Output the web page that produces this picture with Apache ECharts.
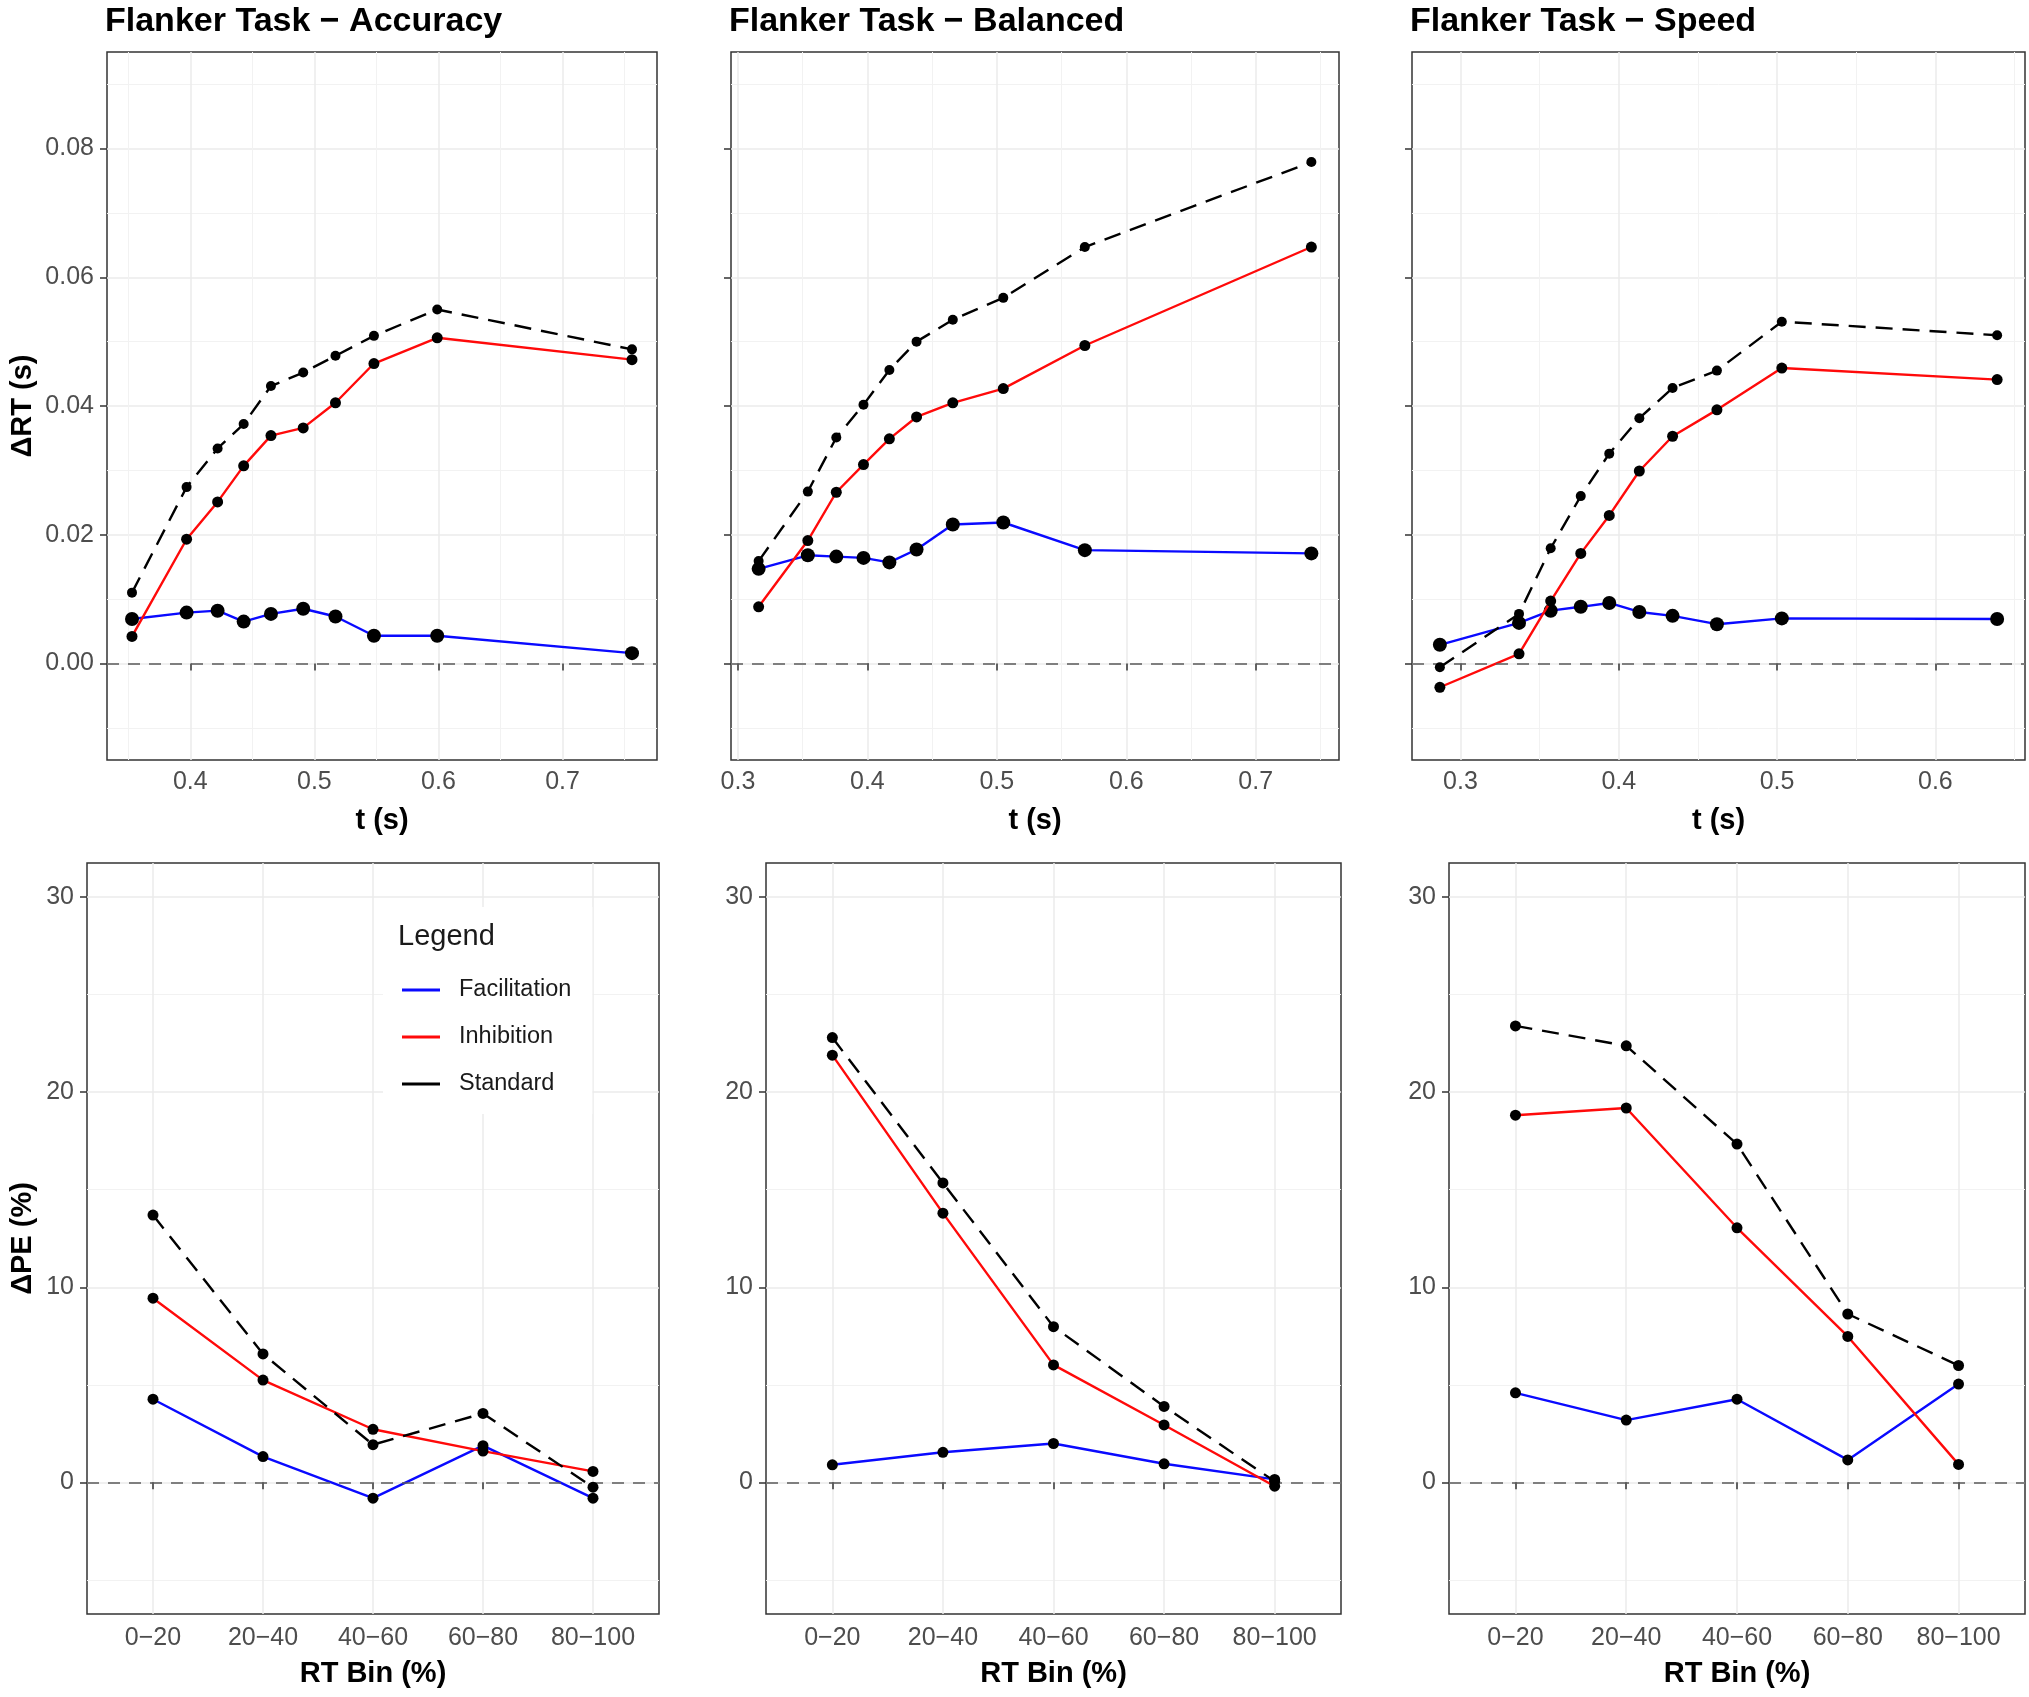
<!DOCTYPE html>
<html><head><meta charset="utf-8">
<script src="https://cdn.jsdelivr.net/npm/echarts@6/dist/echarts.min.js"></script>
<style>html,body{margin:0;padding:0;background:#fff}#c{width:2029px;height:1697px}</style>
</head><body><div id="c"></div>
<script>
// ---------- DATA ----------
const taskNames = ['Accuracy', 'Balanced', 'Speed'];
const seriesNames = ['Facilitation', 'Inhibition', 'Standard'];

// Top row: delta RT (s) against mean RT t (s)
const accuracyT   = [0.353, 0.397, 0.422, 0.443, 0.465, 0.491, 0.517, 0.548, 0.599, 0.756];
const accuracyFac = [0.0069, 0.0079, 0.0082, 0.0065, 0.0077, 0.0085, 0.0073, 0.0043, 0.0043, 0.0016];
const accuracyInh = [0.0042, 0.0193, 0.0251, 0.0307, 0.0354, 0.0366, 0.0405, 0.0466, 0.0506, 0.0472];
const accuracyStd = [0.0110, 0.0274, 0.0334, 0.0372, 0.0431, 0.0452, 0.0478, 0.0509, 0.0550, 0.0488];

const balancedT   = [0.316, 0.354, 0.376, 0.397, 0.417, 0.438, 0.466, 0.505, 0.568, 0.743];
const balancedFac = [0.0147, 0.0168, 0.0166, 0.0164, 0.0157, 0.0177, 0.0216, 0.0219, 0.0176, 0.0171];
const balancedInh = [0.0088, 0.0191, 0.0266, 0.0309, 0.0349, 0.0383, 0.0405, 0.0427, 0.0494, 0.0647];
const balancedStd = [0.0159, 0.0267, 0.0351, 0.0402, 0.0456, 0.0500, 0.0534, 0.0568, 0.0647, 0.0779];

const speedT   = [0.287, 0.337, 0.357, 0.376, 0.394, 0.413, 0.434, 0.462, 0.503, 0.639];
const speedFac = [0.0029, 0.0063, 0.0082, 0.0088, 0.0094, 0.0080, 0.0074, 0.0061, 0.0070, 0.0069];
const speedInh = [-0.0037, 0.0015, 0.0097, 0.0171, 0.0230, 0.0299, 0.0353, 0.0394, 0.0459, 0.0441];
const speedStd = [-0.0006, 0.0077, 0.0179, 0.0260, 0.0326, 0.0381, 0.0428, 0.0455, 0.0531, 0.0510];

// Bottom row: delta PE (%) per RT bin
const rtBins = ['0\u221220', '20\u221240', '40\u221260', '60\u221280', '80\u2212100'];
const accuracyPEFac = [4.26, 1.32, -0.81, 1.88, -0.81];
const accuracyPEInh = [9.44, 5.24, 2.72, 1.60, 0.56];
const accuracyPEStd = [13.70, 6.58, 1.93, 3.53, -0.25];
const balancedPEFac = [0.90, 1.54, 1.99, 0.95, 0.15];
const balancedPEInh = [21.90, 13.80, 6.02, 2.94, -0.20];
const balancedPEStd = [22.80, 15.35, 7.98, 3.89, 0.05];
const speedPEFac = [4.59, 3.19, 4.26, 1.15, 5.04];
const speedPEInh = [18.82, 19.19, 13.05, 7.48, 0.92];
const speedPEStd = [23.40, 22.38, 17.34, 8.63, 5.99];

const rtTicks = [0, 0.02, 0.04, 0.06, 0.08];
const peTicks = [0, 10, 20, 30];

// ---------- BUILD ----------
const topX = [accuracyT, balancedT, speedT];
const topY = [[accuracyFac, accuracyInh, accuracyStd], [balancedFac, balancedInh, balancedStd], [speedFac, speedInh, speedStd]];
const botY = [[accuracyPEFac, accuracyPEInh, accuracyPEStd], [balancedPEFac, balancedPEInh, balancedPEStd], [speedPEFac, speedPEInh, speedPEStd]];

const FONT = '"Liberation Sans", Arial, Helvetica, sans-serif';
const lineColors = { Facilitation: '#0a0aff', Inhibition: '#ff0a0a', Standard: '#000000' };
const lineTypes = { Facilitation: 'solid', Inhibition: 'solid', Standard: [17, 10] };
const topSymbol = { Facilitation: 14, Inhibition: 11, Standard: 10 };

const topGrid = [
  { left: 107, top: 52, width: 550, height: 708 },
  { left: 731, top: 52, width: 608, height: 708 },
  { left: 1412, top: 52, width: 613, height: 708 }
];
const botGrid = [
  { left: 87, top: 863, width: 572, height: 751 },
  { left: 766, top: 863, width: 575, height: 751 },
  { left: 1449, top: 863, width: 576, height: 751 }
];

const grids = [], xAxes = [], yAxes = [], series = [], titles = [];

const tickStyle = { show: true, length: 7, inside: false, lineStyle: { color: '#333333', width: 1.5 } };
const splitStyle = { show: true, lineStyle: { color: '#ebebeb', width: 1.5 } };
const minorSplitStyle = { show: true, lineStyle: { color: '#f2f2f2', width: 1 } };
const labelBase = { color: '#4d4d4d', fontSize: 25, fontFamily: FONT };
const nameStyle = { color: '#000', fontSize: 29, fontWeight: 'bold', fontFamily: FONT };
const zeroLine = {
  silent: true, symbol: 'none', label: { show: false }, animation: false,
  lineStyle: { color: '#5a5a5a', width: 1.6, type: [12, 9] },
  data: [{ yAxis: 0 }]
};

function gridOf(g) {
  return Object.assign({ show: true, backgroundColor: '#ffffff', borderColor: '#333333', borderWidth: 1.5, containLabel: false }, g);
}

// top row
for (let p = 0; p < 3; p++) {
  const gi = p;
  grids.push(gridOf(topGrid[p]));
  const xs = topX[p];
  const lo = Math.min(...xs), hi = Math.max(...xs), r = hi - lo;
  const xmin = lo - 0.05 * r, xmax = hi + 0.05 * r;
  const xt = [];
  for (let v = Math.ceil(xmin * 10); v <= Math.floor(xmax * 10); v++) xt.push(v / 10);
  xAxes.push({
    type: 'value', gridIndex: gi, min: xmin, max: xmax,
    name: 't (s)', nameLocation: 'middle', nameGap: 46, nameTextStyle: nameStyle,
    axisLine: { show: false },
    axisTick: Object.assign({}, tickStyle, { customValues: xt }),
    axisLabel: Object.assign({}, labelBase, { margin: 10, customValues: xt, formatter: v => v.toFixed(1) }),
    splitLine: splitStyle, minorTick: { show: false, splitNumber: 2 }, minorSplitLine: minorSplitStyle
  });
  yAxes.push({
    type: 'value', gridIndex: gi, min: -0.015, max: 0.095,
    name: p === 0 ? '\u0394RT (s)' : '', nameLocation: 'middle', nameGap: 70, nameTextStyle: nameStyle,
    axisLine: { show: false },
    axisTick: Object.assign({}, tickStyle, { customValues: rtTicks }),
    axisLabel: Object.assign({}, labelBase, { show: p === 0, fontSize: 25, margin: 13, customValues: rtTicks, formatter: v => v.toFixed(2) }),
    splitLine: splitStyle, minorTick: { show: false, splitNumber: 2 }, minorSplitLine: minorSplitStyle
  });
  seriesNames.forEach((nm, k) => {
    const s = {
      type: 'line', name: nm, xAxisIndex: gi, yAxisIndex: gi,
      data: xs.map((x, j) => [x, topY[p][k][j]]),
      symbol: 'circle', symbolSize: topSymbol[nm], showSymbol: true,
      itemStyle: { color: '#000' },
      lineStyle: { color: lineColors[nm], width: 2.4, type: lineTypes[nm] },
      emphasis: { disabled: true }, silent: true, animation: false, z: 3 + k
    };
    if (k === 0) s.markLine = zeroLine;
    series.push(s);
  });
  titles.push({ text: 'Flanker Task \u2212 ' + taskNames[p], left: topGrid[p].left - 7, top: 0,
    textStyle: { fontFamily: FONT, fontSize: 34, fontWeight: 'bold', color: '#000' } });
}

// bottom row
const binPos = rtBins.map((b, i) => i + 1);
for (let p = 0; p < 3; p++) {
  const gi = 3 + p;
  grids.push(gridOf(botGrid[p]));
  xAxes.push({
    type: 'value', gridIndex: gi, min: 0.4, max: 5.6,
    name: 'RT Bin (%)', nameLocation: 'middle', nameGap: 45, nameTextStyle: nameStyle,
    axisLine: { show: false },
    axisTick: Object.assign({}, tickStyle, { customValues: binPos }),
    axisLabel: Object.assign({}, labelBase, { margin: 12, customValues: binPos, formatter: v => rtBins[Math.round(v) - 1] || '' }),
    splitLine: splitStyle
  });
  yAxes.push({
    type: 'value', gridIndex: gi, min: -6.75, max: 31.75,
    name: p === 0 ? '\u0394PE (%)' : '', nameLocation: 'middle', nameGap: 50, nameTextStyle: nameStyle,
    axisLine: { show: false },
    axisTick: Object.assign({}, tickStyle, { customValues: peTicks }),
    axisLabel: Object.assign({}, labelBase, { fontSize: 25, margin: 13, customValues: peTicks, formatter: v => String(v) }),
    splitLine: splitStyle, minorTick: { show: false, splitNumber: 2 }, minorSplitLine: minorSplitStyle
  });
  seriesNames.forEach((nm, k) => {
    const s = {
      type: 'line', name: nm, xAxisIndex: gi, yAxisIndex: gi,
      data: binPos.map((x, j) => [x, botY[p][k][j]]),
      symbol: 'circle', symbolSize: 11, showSymbol: true,
      itemStyle: { color: '#000' },
      lineStyle: { color: lineColors[nm], width: 2.4, type: lineTypes[nm] },
      emphasis: { disabled: true }, silent: true, animation: false, z: 3 + k
    };
    if (k === 0) s.markLine = zeroLine;
    series.push(s);
  });
}

titles.push({ text: 'Legend', left: 393, top: 917, z: 20, zlevel: 0,
  textStyle: { fontFamily: FONT, fontSize: 29, fontWeight: 'normal', color: '#1a1a1a' } });

const chart = echarts.init(document.getElementById('c'), null, { renderer: 'canvas' });
chart.setOption({
  animation: false,
  backgroundColor: '#ffffff',
  title: titles,
  grid: grids,
  xAxis: xAxes,
  yAxis: yAxes,
  legend: {
    show: true, orient: 'vertical', left: 383, top: 907,
    padding: [71, 21, 18, 19], backgroundColor: '#ffffff',
    itemWidth: 38, itemHeight: 3, itemGap: 23,
    selectedMode: false, z: 5,
    textStyle: { fontFamily: FONT, fontSize: 23.5, color: '#1a1a1a', padding: [0, 0, 0, 14] },
    data: seriesNames.map(n => ({ name: n, icon: 'rect', itemStyle: { color: lineColors[n], borderWidth: 0 } }))
  },
  series: series
});
</script></body></html>
